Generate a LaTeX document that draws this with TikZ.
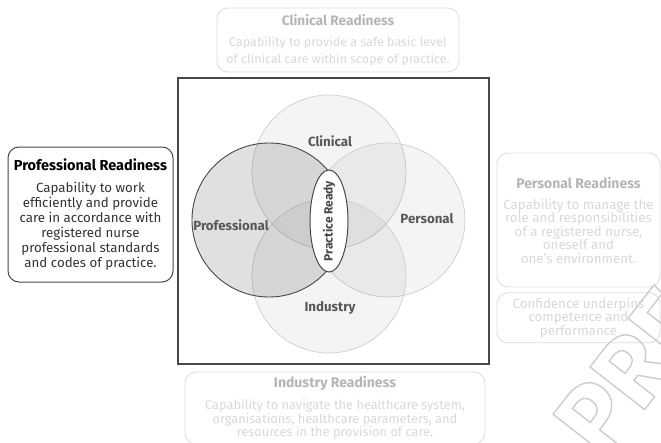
\documentclass[tikz,border=0pt]{standalone}
\usepackage{fontspec}
\setmainfont{Fira Sans}
\usetikzlibrary{positioning,shapes.geometric}

\definecolor{darkline}{HTML}{474747}
\definecolor{paleline}{HTML}{DCDCDC}
\definecolor{paletitle}{HTML}{B5B5B5}
\definecolor{paletext}{HTML}{D8D8D8}
\definecolor{setlabel}{HTML}{585858}
\definecolor{ringline}{HTML}{CDCDCD}
\definecolor{stamp}{HTML}{CCCCCC}

% outlined (stroked) letters
\newcommand{\hollow}[1]{\special{pdf:literal direct 1 Tr 1.4 w}#1\special{pdf:literal direct 0 Tr}}

\begin{document}
\begin{tikzpicture}[
    x=1pt,y=-1pt,
    node distance=5pt,
    every node/.append style={font=\fontsize{12.8}{13.5}\selectfont},
    readybox/.style={draw=paleline,line width=0.8pt,rounded corners=11pt,
        align=center,inner sep=0pt,text=paletext,minimum width=163pt},
    mainbox/.style={readybox,draw=darkline,line width=1pt,text=black!80},
    ring/.style={draw=ringline,line width=0.7pt,fill=black,fill opacity=0.045},
    setname/.style={text=setlabel,font=\fontsize{13.3}{15}\bfseries\selectfont}
]
\useasboundingbox (0,0) rectangle (661,442);

% frame round the sets
\draw[darkline,line width=1.2pt] (178,78) rectangle (489,364);

% the four sets
\path[ring] (329,172) circle (77);
\path[ring] (388,220) circle (77);
\path[ring] (329,276) circle (77);
\path[ring,draw=darkline,line width=0.9pt,fill opacity=0.12] (269,220) circle (77);

\node[setname] (clinical)     at (330,141) {Clinical};
\node[setname] (personal)     at (427,219) {Personal};
\node[setname] (professional) at (231,225) {Professional};
\node[setname] (industry)     at (330,308) {Industry};

\node[ellipse,draw=darkline,line width=1pt,fill=white,
    minimum width=38pt,minimum height=102pt,inner sep=0pt] (ready) at (329,221) {};
\node[rotate=90,text=darkline,font=\fontsize{12}{14}\bfseries\selectfont]
    (readytext) at (ready) {Practice Ready};

% readiness boxes
\node[readybox,minimum width=242pt,minimum height=64pt,
    font=\fontsize{12.5}{17}\selectfont] (clinicalbox) at (338,40)
    {{\color{paletitle}\fontsize{13.7}{17}\bfseries Clinical Readiness}\\[4pt]
     Capability to provide a safe basic level\\
     of clinical care within scope of practice.};

\node[mainbox,minimum width=165pt,minimum height=135pt,
    font=\fontsize{13.3}{15}\selectfont] (professionalbox) at (90.5,214.5)
    {{\color{black}\fontsize{14.5}{15}\bfseries Professional Readiness}\\[7pt]
     Capability to work\\
     efficiently and provide\\
     care in accordance with\\
     registered nurse\\
     professional standards\\
     and codes of practice.};

\node[readybox,minimum height=134pt,font=\fontsize{13.3}{13.5}\selectfont]
    (personalbox) at (578.5,220)
    {{\color{paletitle}\fontsize{14}{13.5}\bfseries Personal Readiness}\\[7.5pt]
     Capability to manage the\\
     role and responsibilities\\
     of a registered nurse,\\
     oneself and\\
     one's environment.};

\node[readybox,minimum height=50pt,below=of personalbox,
    font=\fontsize{13.3}{13.5}\selectfont] (confidencebox)
    {Confidence underpins\\
     competence and\\
     performance};

\node[readybox,minimum width=300pt,minimum height=72pt] (industrybox) at (335,408)
    {{\color{paletitle}\fontsize{14}{13.5}\bfseries Industry Readiness}\\[8.5pt]
     Capability to navigate the healthcare system,\\
     organisations, healthcare parameters, and\\
     resources in the provision of care.};

% stamp across the corner
\node[rotate=52,text=stamp,inner sep=0pt,
    font=\fontsize{100}{100}\bfseries\selectfont] (stampword) at (630,372) {\hollow{PRE}};
\end{tikzpicture}
\end{document}
